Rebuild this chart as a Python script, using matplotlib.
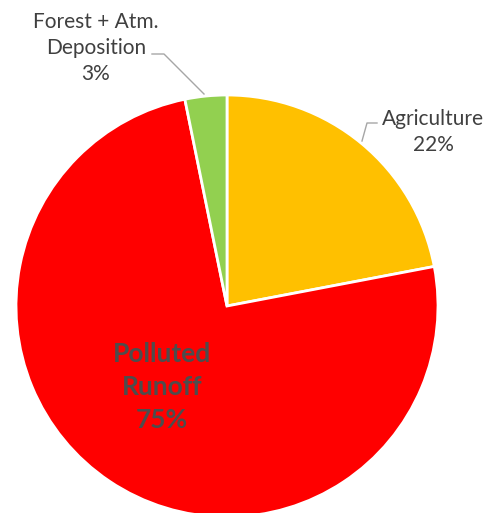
import matplotlib.pyplot as plt

labels = ["Agriculture", "Polluted Runoff", "Forest + Atm. Deposition"]
shares = [22, 74.8, 3.2]
colors = ["#FFC000", "#FF0000", "#92D050"]

W, H = 501, 513
plt.rcParams["font.family"] = ["Lato", "DejaVu Sans"]

fig = plt.figure(figsize=(W / 100, H / 100), dpi=100)
ax = fig.add_axes([0, 0, 1, 1])

cx, cy, r = 227, H - 306, 211
ax.pie(shares, colors=colors, startangle=90, counterclock=False,
       center=(cx, cy), radius=r,
       wedgeprops=dict(edgecolor="white", linewidth=2))
ax.set_xlim(0, W)
ax.set_ylim(0, H)
ax.set_aspect("equal")
ax.axis("off")

txt = "#404040"
ax.text(96, H - 48, "Forest + Atm.\nDeposition\n3%", ha="center", va="center",
        fontsize=15, color=txt, linespacing=1.4)
ax.text(433, H - 132, "Agriculture\n22%", ha="center", va="center",
        fontsize=15, color=txt, linespacing=1.4)
ax.text(162, H - 387, "Polluted\nRunoff\n75%", ha="center", va="center",
        fontsize=19, fontweight="bold", color="#4d4d4d", linespacing=1.45)

# leader lines
ax.plot([152, 164, 204], [H - 54, H - 54, H - 94], color="#a6a6a6", lw=1)
ax.plot([377, 367, 362], [H - 123, H - 123, H - 141], color="#a6a6a6", lw=1)

fig.savefig("out.png", dpi=100)
